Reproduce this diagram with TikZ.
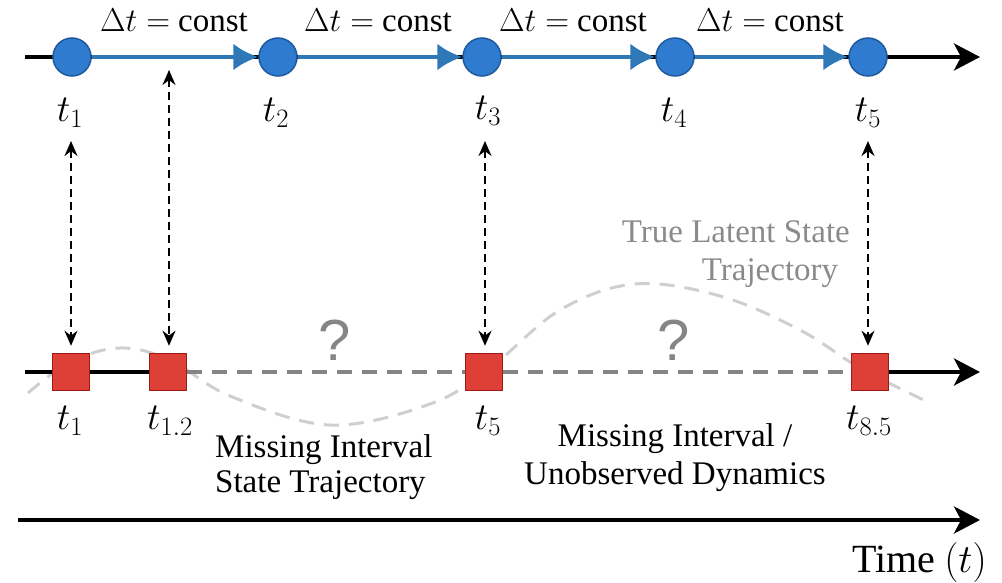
\documentclass[tikz,border=0pt]{standalone}
\usepackage{fix-cm}
\usepackage[no-math]{fontspec}
\setmainfont{Liberation Serif}
\newfontfamily\qfont{Liberation Sans}
\newfontfamily\dfont{Liberation Serif}
\usetikzlibrary{arrows.meta}
\definecolor{cblue}{HTML}{2F7BD0}
\definecolor{cbluedark}{HTML}{1F5A9E}
\definecolor{lblue}{HTML}{2E78B8}
\definecolor{cred}{HTML}{DE4038}
\definecolor{creddark}{HTML}{9E1A16}
\definecolor{axgray}{HTML}{858585}
\definecolor{curvegray}{HTML}{CFCFCF}
\definecolor{txtgray}{HTML}{8A8A8A}
\tikzset{
  obs/.style={circle,draw=cbluedark,fill=cblue,line width=1.5pt,minimum size=38pt,inner sep=0pt},
  irr/.style={rectangle,draw=creddark,fill=cred,line width=1.5pt,minimum size=37pt,inner sep=0pt},
  tlab/.style={font=\fontsize{38}{40}\selectfont,inner sep=0pt},
  dlab/.style={font=\dfont\fontsize{33}{36}\selectfont,inner sep=0pt,anchor=base},
  btext/.style={font=\dfont\fontsize{33}{36}\selectfont,inner sep=0pt,anchor=base},
  qmark/.style={font=\qfont\fontsize{58}{60}\selectfont,text=axgray,inner sep=0pt},
  axis/.style={line width=4pt,-{Stealth[length=26pt,width=27pt,inset=7pt]}},
  blueseg/.style={lblue,line width=4pt,-{Latex[length=25pt,width=27pt]}},
  link/.style={line width=2pt,dash pattern=on 8pt off 5pt,{Stealth[length=15pt,width=13pt]}-{Stealth[length=15pt,width=13pt]}},
  gapline/.style={axgray,line width=4pt,dash pattern=on 15pt off 10pt},
  truecurve/.style={curvegray,line width=3pt,dash pattern=on 15pt off 10pt},
}
\newcommand{\dtconst}{$\Delta t$\hspace{9pt}$=$\hspace{8pt}const}
\begin{document}
\begin{tikzpicture}[x={(1pt,0)},y={(0,-1pt)}]
\useasboundingbox (0,0) rectangle (1002,583);
% true latent curve
\draw[truecurve] plot[smooth,tension=0.6] coordinates {(28,393) (70,362) (120,348) (170,360) (230,396) (330,425) (430,404) (490,368) (560,310) (635,284) (720,296) (800,330) (860,368) (930,403)};
% top axis
\coordinate (ta0) at (25,57);
\coordinate (ta1) at (980,57);
\draw[axis] (ta0) -- (ta1);
\node[obs] (c1) at (72,57) {};
\node[obs] (c2) at (278,57) {};
\node[obs] (c3) at (482,57) {};
\node[obs] (c4) at (675,57) {};
\node[obs] (c5) at (868,57) {};
\draw[blueseg] (c1) -- (c2);
\draw[blueseg] (c2) -- (c3);
\draw[blueseg] (c3) -- (c4);
\draw[blueseg] (c4) -- (c5);
\node[dlab] (d1) at (174,32) {\dtconst};
\node[dlab] (d2) at (378,32) {\dtconst};
\node[dlab] (d3) at (573,32) {\dtconst};
\node[dlab] (d4) at (770,32) {\dtconst};
\node[tlab] (l1) at (70,113) {$t_1$};
\node[tlab] (l2) at (276,113) {$t_2$};
\node[tlab] (l3) at (488,111) {$t_3$};
\node[tlab] (l4) at (674,113) {$t_4$};
\node[tlab] (l5) at (868,113) {$t_5$};
% bottom axis
\coordinate (ba0) at (25,372);
\coordinate (ba1) at (980,372);
\node[irr] (s1) at (71,372) {};
\node[irr] (s2) at (168,372) {};
\node[irr] (s3) at (484,372) {};
\node[irr] (s4) at (870,372) {};
\draw[line width=4pt] (ba0) -- (s1.west);
\draw[line width=4pt] (s1.east) -- (s2.west);
\draw[gapline] (s2.east) -- (s3.west);
\draw[gapline] (s3.east) -- (s4.west);
\draw[axis] (s4.east) -- (ba1);
\node[tlab] (b1) at (70,421) {$t_1$};
\node[tlab] (b2) at (170,421) {$t_{1.2}$};
\node[tlab] (b3) at (488,421) {$t_5$};
\node[tlab] (b4) at (869,421) {$t_{8.5}$};
% links
\coordinate (m12) at (169,70);
\coordinate (a1) at (71,141);
\coordinate (a3) at (485,141);
\coordinate (a4) at (868,141);
\draw[link,shorten >=7pt] (a1) -- (s1.north);
\draw[link,shorten >=7pt] (m12) -- (s2.north -| m12);
\draw[link,shorten >=7pt] (a3) -- (s3.north -| a3);
\draw[link,shorten >=7pt] (a4) -- (s4.north -| a4);
% question marks
\node[qmark] (q1) at (335,340) {?};
\node[qmark] (q2) at (674,340) {?};
% texts
\node[btext,text=txtgray,anchor=base east] (tl1) at (850,242) {True Latent State};
\node[btext,text=txtgray] (tl2) at (770,280) {Trajectory};
\node[btext,anchor=base west] (ma1) at (215,457) {Missing Interval};
\node[btext,anchor=base west] (ma2) at (215,492) {State Trajectory};
\node[btext] (mb1) at (675,446) {Missing Interval /};
\node[btext] (mb2) at (675,484) {Unobserved Dynamics};
% time axis
\coordinate (tx0) at (18,520);
\coordinate (tx1) at (980,520);
\draw[axis] (tx0) -- (tx1);
\node[font=\dfont\fontsize{40}{44}\selectfont,inner sep=0pt,anchor=base east] (tt) at (987,572) {Time\hspace{9pt}$(t)$};
\end{tikzpicture}
\end{document}
